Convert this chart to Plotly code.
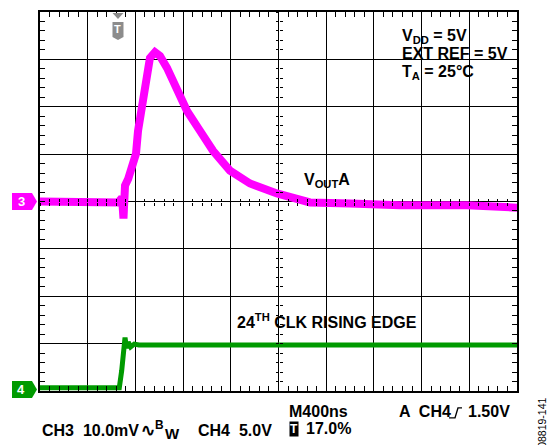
import plotly.graph_objects as go

# ---- data ----
# CH3: VOUTA, time in ns, value in mV (10 mV/div)
ch3_t = [0, 300, 600, 655, 675, 688, 700, 713, 740, 760, 780, 805, 822, 855, 881,
         922, 964, 1006, 1065, 1149, 1233, 1342, 1451, 1593, 1761, 1987, 2264,
         2600, 3019, 3581, 4000]
ch3_mv = [0.0, 0.1, 0.0, -0.2, 0.4, 0.8, -3.6, 3.4, 4.8, 6.5, 8.0, 10.1, 14.9, 19.7, 25.4,
          30.3, 31.5, 30.7, 28.2, 23.9, 19.1, 14.9, 10.7, 6.5, 3.8, 1.7, -0.2,
          -0.4, -0.8, -0.8, -1.3]
# CH4: CLK, time in ns, value in V (5 V/div)
ch4_t = [0, 665, 685, 703, 713, 725, 740, 760, 790, 830, 4000]
ch4_v = [0.2, 0.2, 2.0, 4.5, 5.5, 4.4, 5.0, 4.5, 4.8, 4.7, 4.7]

time_div_ns = 400
ch3_div_mv = 10
ch4_div_v = 5
ch4_ground_div = -3.97   # CH4 ground marker position in divisions

MAGENTA = "#ff00ff"
GREEN = "#009a00"
GRAY = "#8c8c8c"
FONT = "Liberation Sans, Arial, sans-serif"

# plot area in pixels
L, R, T, B = 40, 517, 10, 391
W_PX, H_PX = R - L, B - T


def px(x):
    return (x - L) / W_PX


def py(y):
    return (B - y) / H_PX


fig = go.Figure()
fig.add_trace(go.Scatter(x=ch3_t, y=ch3_mv, mode="lines",
                         line=dict(color=MAGENTA, width=8), xaxis="x", yaxis="y",
                         showlegend=False, hoverinfo="skip"))
fig.add_trace(go.Scatter(x=ch4_t, y=ch4_v, mode="lines",
                         line=dict(color=GREEN, width=5), xaxis="x", yaxis="y2",
                         showlegend=False, hoverinfo="skip"))
# invisible traces to register the centre-tick axes
for xa, ya in [("x2", "y"), ("x3", "y"), ("x", "y3"), ("x", "y4")]:
    fig.add_trace(go.Scatter(x=[None], y=[None], xaxis=xa, yaxis=ya,
                             showlegend=False, hoverinfo="skip"))

xr = [0, 10 * time_div_ns]
yr = [-4 * ch3_div_mv, 4 * ch3_div_mv]
y2r = [(-4 - ch4_ground_div) * ch4_div_v, (4 - ch4_ground_div) * ch4_div_v]

common_main = dict(showgrid=True, gridcolor="black", gridwidth=1,
                   showline=True, linecolor="black", linewidth=2, mirror="ticks",
                   ticks="inside", ticklen=5, tickcolor="black", tickwidth=1,
                   showticklabels=False, zeroline=False, fixedrange=True)

fig.update_layout(
    width=550, height=445,
    margin=dict(l=L, r=550 - R, t=T, b=445 - B, pad=0),
    paper_bgcolor="white", plot_bgcolor="white",
    font=dict(family=FONT, color="black"),
    xaxis=dict(range=xr, dtick=time_div_ns, domain=[0, 1], anchor="y",
               minor=dict(dtick=time_div_ns / 5, ticks="inside", ticklen=5,
                          tickcolor="black", showgrid=False),
               **common_main),
    yaxis=dict(range=yr, dtick=ch3_div_mv, domain=[0, 1], anchor="x",
               minor=dict(dtick=ch3_div_mv / 5, ticks="inside", ticklen=5,
                          tickcolor="black", showgrid=False),
               **common_main),
    yaxis2=dict(range=y2r, overlaying="y", visible=False, fixedrange=True),
)

center_common = dict(showgrid=False, showline=False, zeroline=False,
                     showticklabels=False, ticklen=3, tickcolor="black",
                     tickwidth=1, fixedrange=True)
for name, tk in [("xaxis2", "inside"), ("xaxis3", "outside")]:
    fig.update_layout(**{name: dict(range=xr, dtick=time_div_ns, overlaying="x",
                                    anchor="free", position=0.5, side="bottom",
                                    ticks=tk,
                                    minor=dict(dtick=time_div_ns / 5, ticks=tk,
                                               ticklen=3, tickcolor="black"),
                                    **center_common)})
for name, tk in [("yaxis3", "inside"), ("yaxis4", "outside")]:
    fig.update_layout(**{name: dict(range=yr, dtick=ch3_div_mv, overlaying="y",
                                    anchor="free", position=0.5, side="left",
                                    ticks=tk,
                                    minor=dict(dtick=ch3_div_mv / 5, ticks=tk,
                                               ticklen=3, tickcolor="black"),
                                    **center_common)})

# channel marker levels in paper coordinates (ground references)
ch3_level_paper = 0.5
ch4_level_paper = 0.5 + ch4_ground_div / 8

shapes = []
marker_path = "M -28,8.5 L -8,8.5 L -3,0 L -8,-8.5 L -28,-8.5 Z"
for lvl, col in [(ch3_level_paper, MAGENTA), (ch4_level_paper, GREEN)]:
    shapes.append(dict(type="path", xref="paper", yref="paper", xsizemode="pixel",
                       ysizemode="pixel", xanchor=0, yanchor=lvl, path=marker_path,
                       fillcolor=col, line=dict(width=0), layer="above"))
# trigger position marker
trig_t = 654
shapes.append(dict(type="path", xref="x", yref="paper", xsizemode="pixel",
                   ysizemode="pixel", xanchor=trig_t, yanchor=1,
                   path="M -5.5,-1 L 5.5,-1 L 0,-7 Z",
                   fillcolor=GRAY, line=dict(width=0), layer="above"))
shapes.append(dict(type="path", xref="x", yref="paper", xsizemode="pixel",
                   ysizemode="pixel", xanchor=trig_t, yanchor=1,
                   path="M -5.5,-10 L 5.5,-10 L 5.5,-25 L 0,-28 L -5.5,-25 Z",
                   fillcolor=GRAY, line=dict(width=0), layer="above"))
# rising-edge trigger slope glyph in the status line
shapes.append(dict(type="path", xref="paper", yref="paper", xsizemode="pixel",
                   ysizemode="pixel", xanchor=px(449), yanchor=py(418),
                   path="M 0,0 L 6,0 L 9,10 L 13,10",
                   line=dict(color="black", width=1.4), layer="above"))
fig.update_layout(shapes=shapes)

ann = []


def text(s, x, y, size=16, color="black", xanchor="left", **kw):
    d = dict(text=s, xref="paper", yref="paper", x=px(x), y=py(y),
             xanchor=xanchor, yanchor="middle", showarrow=False,
             font=dict(family=FONT, size=size, color=color))
    d.update(kw)
    ann.append(d)


for lbl, lvl in [("3", ch3_level_paper), ("4", ch4_level_paper)]:
    ann.append(dict(text="<b>%s</b>" % lbl, xref="paper", yref="paper",
                    x=px(21), y=lvl, xanchor="center", yanchor="middle",
                    showarrow=False, font=dict(family=FONT, size=13, color="white")))
ann.append(dict(text="<b>T</b>", xref="x", yref="paper", x=trig_t, y=1,
                yshift=-17, xanchor="center", yanchor="middle", showarrow=False,
                font=dict(family=FONT, size=11, color="white")))

text("<b>V<sub>DD</sub> = 5V</b>", 400, 35)
text("<b>EXT REF = 5V</b>", 400, 52)
text("<b>T<sub>A</sub> = 25°C</b>", 400, 71)
text("<b>V<sub>OUT</sub>A</b>", 302, 179)
text("<b>24<sup>TH</sup> CLK RISING EDGE</b>", 235, 321)

text("<b>CH3  10.0mV</b>", 40, 431)
text("<b>∿<sup>B</sup></b>", 139, 429, size=17)
text("<b>W</b>", 163, 434, size=15)
text("<b>CH4  5.0V</b>", 196, 431)
text("<b>M400ns</b>", 287, 412)
ann.append(dict(text="<b>T</b>", xref="paper", yref="paper", x=px(293.5), y=py(429),
                xanchor="center", yanchor="middle", showarrow=False,
                bgcolor="black", borderpad=0,
                font=dict(family=FONT, size=12, color="white")))
text("<b>17.0%</b>", 304, 429)
text("<b>A  CH4</b>", 397, 412)
text("<b>1.50V</b>", 466, 412)
text("08819-141", 542, 423, size=10.5, xanchor="center", textangle=-90)

fig.update_layout(annotations=ann)

# remove the default 8px page margin so the 550x445 figure fills the window
fig.write_html("out.html", config={"displayModeBar": False},
               post_script="document.body.style.margin='0';")
